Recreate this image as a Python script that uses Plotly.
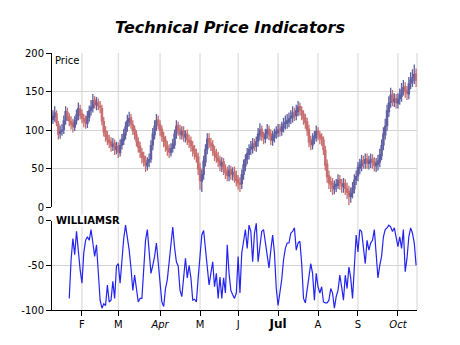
import plotly.graph_objects as go
import pandas as pd

# ---------------- data ----------------
dates = pd.bdate_range("2010-01-08", periods=201).strftime("%Y-%m-%d").tolist()

close_ = [118, 122, 110, 95, 98, 100, 112, 124, 118, 112,
          108, 105, 112, 120, 128, 120, 116, 112, 110, 118,
          125, 130, 138, 134, 135, 132, 130, 112, 98, 92,
          88, 84, 80, 82, 76, 78, 72, 80, 88, 95,
          104, 112, 115, 108, 100, 95, 86, 78, 72, 65,
          60, 55, 58, 62, 80, 95, 105, 112, 108, 100,
          92, 86, 80, 75, 72, 76, 82, 95, 105, 100,
          95, 98, 92, 94, 88, 85, 80, 74, 70, 66,
          50, 35, 42, 60, 75, 88, 84, 80, 74, 68,
          65, 60, 55, 58, 50, 45, 42, 48, 44, 45,
          40, 35, 32, 30, 42, 55, 62, 70, 75, 78,
          82, 80, 85, 95, 100, 92, 90, 95, 100, 94,
          88, 92, 95, 98, 100, 100, 104, 108, 110, 112,
          115, 118, 122, 120, 125, 130, 126, 120, 115, 110,
          100, 85, 82, 88, 92, 98, 95, 90, 88, 75,
          55, 40, 32, 30, 25, 27, 30, 35, 32, 28,
          30, 25, 20, 15, 18, 25, 35, 40, 52, 55,
          60, 58, 62, 58, 60, 62, 58, 55, 57, 60,
          68, 80, 95, 105, 125, 135, 145, 138, 140, 136,
          140, 145, 152, 155, 150, 148, 160, 165, 168, 172, 165]

open_ = [114, 117, 121, 108, 96, 99, 101, 113, 123, 117,
         111, 109, 104, 113, 119, 127, 121, 115, 113, 109,
         117, 126, 129, 139, 133, 136, 131, 128, 111, 99,
         93, 87, 85, 79, 83, 75, 79, 71, 81, 87,
         94, 105, 111, 116, 107, 101, 94, 85, 79, 71,
         66, 61, 54, 59, 63, 81, 94, 106, 113, 107,
         101, 91, 87, 79, 76, 71, 77, 81, 96, 106,
         101, 94, 99, 91, 95, 87, 86, 79, 75, 69,
         65, 51, 34, 43, 59, 76, 89, 83, 81, 73,
         69, 64, 61, 54, 59, 49, 46, 41, 49, 43,
         46, 41, 36, 31, 31, 43, 54, 63, 69, 76,
         77, 83, 79, 86, 94, 101, 93, 89, 96, 101,
         95, 87, 91, 96, 97, 101, 99, 103, 109, 109,
         111, 116, 117, 123, 119, 124, 131, 125, 121, 116,
         111, 101, 86, 81, 89, 91, 99, 94, 91, 87,
         74, 56, 41, 33, 31, 24, 28, 29, 36, 31,
         27, 31, 24, 21, 14, 19, 24, 36, 41, 51,
         54, 61, 57, 63, 57, 59, 63, 59, 54, 56,
         59, 67, 81, 94, 106, 124, 136, 146, 137, 141,
         135, 141, 144, 153, 156, 151, 147, 161, 164, 169, 173]

high_ = [126, 131, 126, 112, 106, 108, 119, 131, 129, 122,
         118, 115, 118, 127, 136, 133, 127, 121, 119, 125,
         132, 139, 147, 144, 143, 141, 138, 133, 117, 105,
         99, 94, 91, 90, 88, 85, 84, 88, 95, 102,
         111, 120, 124, 121, 113, 106, 100, 91, 85, 77,
         72, 67, 65, 70, 87, 103, 113, 121, 119, 113,
         106, 98, 93, 86, 82, 83, 89, 101, 113, 111,
         107, 105, 105, 100, 101, 94, 92, 86, 81, 76,
         71, 58, 49, 67, 82, 96, 96, 90, 87, 80,
         76, 72, 67, 65, 64, 56, 53, 55, 54, 52,
         53, 48, 42, 39, 49, 62, 69, 77, 82, 86,
         90, 89, 92, 103, 109, 106, 98, 102, 108, 106,
         101, 99, 102, 105, 108, 108, 111, 116, 119, 121,
         123, 126, 131, 129, 133, 138, 136, 131, 126, 121,
         116, 107, 93, 96, 99, 106, 104, 99, 96, 92,
         80, 62, 48, 40, 38, 35, 37, 43, 42, 37,
         38, 37, 32, 28, 26, 33, 43, 48, 59, 63,
         68, 67, 70, 70, 67, 70, 69, 65, 64, 68,
         76, 88, 104, 115, 133, 144, 155, 152, 148, 147,
         148, 154, 161, 165, 162, 157, 169, 175, 179, 185, 180]

low_ = [108, 111, 105, 88, 89, 93, 95, 107, 112, 105,
        101, 97, 99, 107, 113, 114, 109, 104, 102, 103,
        111, 119, 123, 128, 126, 126, 122, 106, 92, 85,
        81, 77, 72, 73, 68, 69, 64, 66, 75, 81,
        88, 98, 105, 102, 94, 88, 79, 71, 64, 57,
        53, 46, 48, 52, 58, 74, 88, 99, 101, 93,
        85, 78, 72, 67, 64, 66, 71, 76, 89, 93,
        88, 88, 85, 84, 81, 77, 72, 66, 62, 58,
        42, 23, 20, 36, 53, 69, 77, 73, 67, 60,
        58, 52, 47, 46, 42, 37, 34, 34, 36, 35,
        32, 27, 23, 20, 24, 36, 47, 56, 62, 68,
        70, 73, 72, 79, 87, 86, 82, 83, 89, 87,
        81, 80, 84, 89, 91, 92, 93, 97, 101, 102,
        104, 108, 110, 112, 113, 118, 119, 113, 107, 102,
        93, 78, 74, 75, 82, 85, 87, 82, 80, 68,
        48, 32, 24, 20, 16, 17, 20, 24, 23, 19,
        19, 16, 11, 3, 6, 12, 18, 29, 34, 43,
        47, 50, 50, 50, 49, 51, 50, 47, 46, 48,
        52, 61, 74, 88, 99, 117, 129, 131, 130, 128,
        128, 133, 137, 145, 142, 139, 140, 153, 156, 160, 156]

williams_r = [-87, -44, -20, -38, -12, -38, -55, -70, -36, -22,
              -18, -22, -10, -25, -40, -27, -59, -89, -98, -93,
              -95, -72, -91, -89, -68, -87, -51, -48, -70, -40,
              -20, -5, -18, -33, -53, -78, -61, -74, -91, -87,
              -87, -55, -22, -10, -38, -59, -50, -40, -25, -50,
              -72, -91, -96, -76, -66, -45, -29, -7, -30, -46, -51,
              -78, -85, -59, -42, -64, -50, -64, -89, -88, -91,
              -64, -44, -16, -11, -33, -55, -72, -59, -46, -74,
              -59, -87, -63, -87, -64, -81, -27, -59, -78, -83,
              -87, -81, -40, -81, -36, -23, -10, -31, -5, -12,
              -46, -14, -3, -46, -25, -12, -10, -25, -44, -53,
              -33, -16, -36, -76, -95, -81, -66, -44, -31, -25,
              -25, -14, -12, -8, -33, -25, -23, -48, -87, -92,
              -78, -64, -48, -59, -89, -59, -74, -81, -74, -91,
              -92, -92, -89,
              -76, -81, -98, -85, -78, -61, -74, -89, -61, -76,
              -52, -64, -87, -55, -16, -35, -10, -12, -33, -48,
              -22, -33, -25, -22, -10, -36, -64, -50, -40, -18,
              -10, -8, -5, -7, -12, -8, -18, -29, -18, -31,
              -10, -57, -42, -18, -8, -14, -25, -50]

month_labels = ["F", "M", "<i>Apr</i>", "M", "J",
                "<b><span style='font-size:12px'>Jul</span></b>",
                "A", "S", "<i>Oct</i>"]

price_ticks = [0, 50, 100, 150, 200]
wr_ticks = [-100, -50, 0]
wr_ticktext = ["-100", "-50", "0"]

# ---------------- derived helpers ----------------
n = len(dates)
w_dates = dates[n - len(williams_r):]
month_ticks = []
seen = set()
for d in dates:
    ym = d[:7]
    if ym not in seen:
        seen.add(ym)
        if not ym.endswith("-01"):
            month_ticks.append(d)
month_idx = [dates.index(d) for d in month_ticks]

UP = "#5f5fa2"
DOWN = "#c86e6e"
GRID = "#d4d4d4"
FONT = "DejaVu Sans"

fig = go.Figure()
fig.add_trace(go.Candlestick(
    x=dates, open=open_, high=high_, low=low_, close=close_,
    xaxis="x", yaxis="y",
    increasing=dict(line=dict(color=UP, width=1.3), fillcolor=UP),
    decreasing=dict(line=dict(color=DOWN, width=1.3), fillcolor=DOWN),
    whiskerwidth=0, showlegend=False, hoverinfo="skip"))
fig.add_trace(go.Scatter(
    x=w_dates, y=williams_r, mode="lines", xaxis="x2", yaxis="y2",
    line=dict(color="#2424f0", width=1.2), showlegend=False, hoverinfo="skip"))

shapes = []
for i in month_idx:
    shapes.append(dict(type="line", xref="x", yref="paper", x0=i, x1=i, y0=0, y1=1,
                       line=dict(color=GRID, width=1), layer="below"))
shapes.append(dict(type="line", xref="paper", yref="paper", x0=1, x1=1, y0=0, y1=1,
                   line=dict(color=GRID, width=1), layer="below"))

top_dom = [0.399, 1.0]
bot_dom = [0.0, 0.3475]
rng = [-0.5, n - 0.5]

fig.update_layout(
    width=460, height=345,
    margin=dict(l=52, r=43, t=53, b=35),
    paper_bgcolor="white", plot_bgcolor="white",
    boxgap=0.05,
    title=dict(text="<b><i>Technical Price Indicators</i></b>", x=0.5, xref="container",
               xanchor="center", y=1 - 27 / 345, yanchor="middle", yref="container",
               font=dict(family=FONT, size=16, color="black")),
    font=dict(family=FONT, size=10, color="black"),
    xaxis=dict(domain=[0, 1], anchor="y", type="category", range=rng,
               showticklabels=False, showgrid=False, ticks="", zeroline=False,
               showline=False, rangeslider=dict(visible=False)),
    xaxis2=dict(domain=[0, 1], anchor="y2", type="category", range=rng, matches="x",
                showgrid=False, tickmode="array", tickvals=month_ticks, ticktext=month_labels,
                ticks="outside", ticklen=5, tickcolor="black", showline=True,
                linecolor="black", linewidth=1, zeroline=False,
                tickfont=dict(family=FONT, size=10, color="black")),
    yaxis=dict(domain=top_dom, anchor="x", range=[0, 200], tickmode="array",
               tickvals=price_ticks, showgrid=True, gridcolor=GRID, gridwidth=1,
               zeroline=False, ticks="outside", ticklen=5, tickcolor="black",
               showline=True, linecolor="black", linewidth=1,
               tickfont=dict(family=FONT, size=10, color="black")),
    yaxis2=dict(domain=bot_dom, anchor="x2", range=[-100, 0], tickmode="array",
                tickvals=wr_ticks, ticktext=wr_ticktext, showgrid=True, gridcolor=GRID,
                gridwidth=1, zeroline=False, ticks="outside", ticklen=5, tickcolor="black",
                showline=True, linecolor="black", linewidth=1,
                tickfont=dict(family=FONT, size=10, color="black")),
    shapes=shapes,
    annotations=[
        dict(text="Price", xref="paper", yref="paper", x=0, y=1, xanchor="left",
             yanchor="top", xshift=2, yshift=-1, showarrow=False, bgcolor="white",
             borderpad=0, font=dict(family=FONT, size=10, color="black")),
        dict(text="<b>WILLIAMSR</b>", xref="paper", yref="paper", x=0, y=bot_dom[1],
             xanchor="left", yanchor="middle", xshift=3, showarrow=False, bgcolor="white",
             borderpad=0, font=dict(family=FONT, size=10, color="black")),
    ],
)

fig.write_html("out.html")
